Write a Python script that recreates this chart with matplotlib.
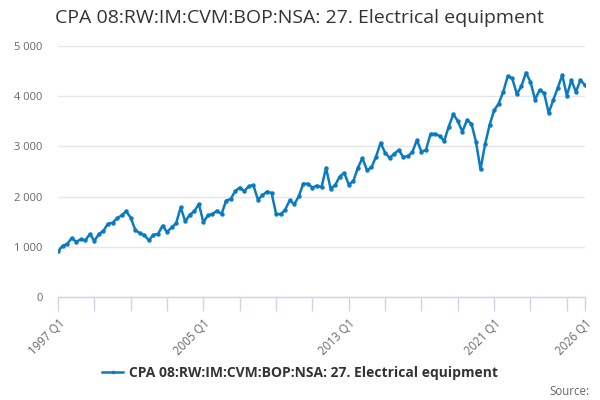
import matplotlib
matplotlib.use("Agg")
import matplotlib.pyplot as plt
from matplotlib.ticker import FuncFormatter, FixedLocator

plt.rcParams['font.family'] = ['Open Sans', 'DejaVu Sans']

title = "CPA 08:RW:IM:CVM:BOP:NSA: 27. Electrical equipment"
series_name = "CPA 08:RW:IM:CVM:BOP:NSA: 27. Electrical equipment"

start_year = 1997
values = [
    907, 1020, 1053, 1173, 1100, 1147, 1127, 1253, 1120, 1253,
    1320, 1460, 1480, 1567, 1627, 1707, 1580, 1340, 1267, 1233,
    1130, 1240, 1253, 1420, 1293, 1387, 1467, 1787, 1507, 1640,
    1707, 1853, 1487, 1627, 1653, 1720, 1653, 1920, 1953, 2107,
    2180, 2110, 2207, 2227, 1940, 2027, 2100, 2073, 1660, 1647,
    1740, 1927, 1847, 2007, 2260, 2253, 2180, 2220, 2187, 2573,
    2160, 2227, 2400, 2473, 2240, 2307, 2573, 2767, 2527, 2580,
    2793, 3073, 2873, 2773, 2853, 2927, 2787, 2807, 2887, 3127,
    2893, 2933, 3247, 3250, 3207, 3107, 3393, 3640, 3507, 3293,
    3520, 3453, 3093, 2540, 3040, 3427, 3720, 3853, 4087, 4400,
    4353, 4040, 4200, 4467, 4287, 3933, 4120, 4067, 3667, 3920,
    4167, 4420, 4013, 4320, 4087, 4320, 4220,
]
quarters = [f"{start_year + i // 4} Q{i % 4 + 1}" for i in range(len(values))]
tick_labels = ["1997 Q1", "2005 Q1", "2013 Q1", "2021 Q1", "2026 Q1"]
y_ticks = [0, 1000, 2000, 3000, 4000, 5000]

line_color = "#0b7bc1"
grid_color = "#e6e6e6"
axis_color = "#ccd6eb"
text_grey = "#666666"

fig = plt.figure(figsize=(6, 4), dpi=100)
ax = fig.add_axes([0.0967, 0.2575, 0.8783, 0.6275])

x = list(range(len(values)))
ax.plot(x, values, color=line_color, lw=1.8, marker='o', ms=3.2,
        markeredgewidth=0, label=series_name, zorder=3)

ax.set_xlim(0, len(values) - 1)
ax.set_ylim(0, 5000)

ax.yaxis.set_major_locator(FixedLocator(y_ticks))
ax.yaxis.set_major_formatter(FuncFormatter(lambda v, p: f"{int(v):,}".replace(",", " ")))
ax.grid(axis='y', color=grid_color, lw=1, zorder=0)
ax.tick_params(axis='y', length=0, pad=11, labelsize=8, labelcolor=text_grey)

label_pos = [quarters.index(t) for t in tick_labels]
minor_pos = sorted(set(list(range(0, len(values), 8)) + [len(values) - 1]))
ax.set_xticks(minor_pos, minor=True)
ax.set_xticks(label_pos)
ax.set_xticklabels(tick_labels, rotation=45, ha='right', va='top',
                   rotation_mode='anchor', fontsize=8.3, color=text_grey)
ax.tick_params(axis='x', which='both', length=10, width=1, color=axis_color, pad=4)

for s in ['top', 'right', 'left']:
    ax.spines[s].set_visible(False)
ax.spines['bottom'].set_color(axis_color)
ax.spines['bottom'].set_linewidth(1)

fig.text(0.092, 0.955, title, fontsize=14, color="#333333", va='center', ha='left')

leg = fig.legend(loc='center', bbox_to_anchor=(0.5, 0.067), frameon=False,
                 prop={'weight': 'bold', 'size': 10}, handlelength=1.5,
                 handletextpad=0.4, markerscale=0.8)
for t in leg.get_texts():
    t.set_color("#333333")

fig.text(0.982, 0.022, "Source:", fontsize=8.3, color=text_grey, ha='right', va='center')

fig.savefig("out.png", dpi=100)
